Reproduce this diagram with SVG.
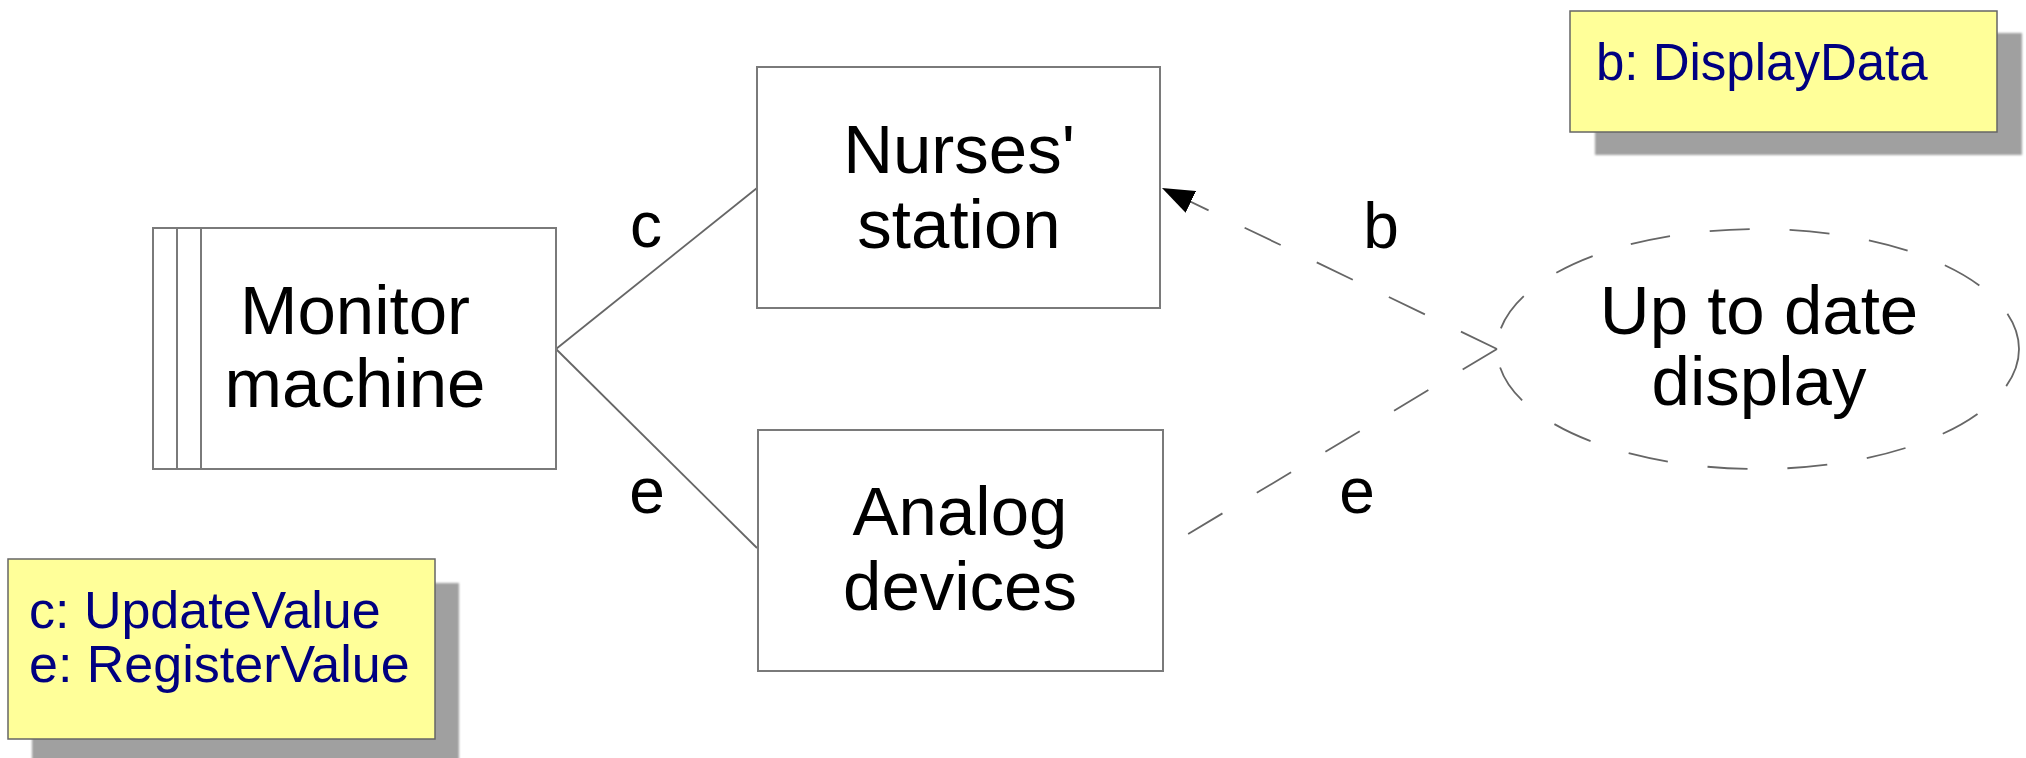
<svg xmlns="http://www.w3.org/2000/svg" width="2026" height="758" viewBox="0 0 2026 758">
<style>
.box{fill:#fff;stroke:#7a7a7a;stroke-width:2}
.lbl{font-family:"Liberation Sans",Arial,sans-serif;font-size:69px;fill:#000;text-anchor:middle}
.elbl{font-family:"Liberation Sans",Arial,sans-serif;font-size:64px;fill:#000;text-anchor:middle}
.note{fill:#ffff99;stroke:#666;stroke-width:1.5}
.shadow{fill:#a0a0a0}
.ntxt{font-family:"Liberation Sans",Arial,sans-serif;font-size:52px;fill:#000080}
.solid{fill:none;stroke:#666;stroke-width:1.8}
.dash{fill:none;stroke:#666;stroke-width:1.8;stroke-dasharray:40 40}
</style>
<defs>
<filter id="blur" x="-5%" y="-5%" width="110%" height="110%"><feGaussianBlur stdDeviation="1.2"/></filter>
<marker id="arrow" markerUnits="userSpaceOnUse" markerWidth="34" markerHeight="24" refX="32" refY="12" orient="auto">
<path d="M0,0 L32,12 L0,24 Z" fill="#000"/>
</marker>
</defs>
<g id="connectors">
<path class="solid" d="M556,349 L757,188"/>
<path class="solid" d="M556,349 L757,548"/>
<path class="dash" d="M1497,349 L1162,188" marker-end="url(#arrow)"/>
<path class="dash" d="M1497,349 L1163,549"/>
<text class="elbl" x="646" y="247">c</text>
<text class="elbl" x="647" y="513">e</text>
<text class="elbl" x="1381" y="248">b</text>
<text class="elbl" x="1357" y="513">e</text>
</g>
<g id="monitor-machine">
<rect class="box" x="153" y="228" width="403" height="241"/>
<line class="box" x1="177" y1="228" x2="177" y2="469"/>
<line class="box" x1="201" y1="228" x2="201" y2="469"/>
<text class="lbl" x="355" y="334">Monitor</text>
<text class="lbl" x="355" y="407">machine</text>
</g>
<g id="nurses-station">
<rect class="box" x="757" y="67" width="403" height="241"/>
<text class="lbl" x="959" y="173">Nurses'</text>
<text class="lbl" x="959" y="248">station</text>
</g>
<g id="analog-devices">
<rect class="box" x="758" y="430" width="405" height="241"/>
<text class="lbl" x="960" y="535">Analog</text>
<text class="lbl" x="960" y="610">devices</text>
</g>
<g id="up-to-date-display">
<ellipse class="dash" cx="1758" cy="349" rx="261" ry="120"/>
<text class="lbl" x="1759" y="334">Up to date</text>
<text class="lbl" x="1759" y="405">display</text>
</g>
<g id="note-b">
<rect class="shadow" x="1595" y="33" width="427" height="122" filter="url(#blur)"/>
<rect class="note" x="1570" y="11" width="427" height="121"/>
<text class="ntxt" x="1596" y="80" style="font-size:51px">b: DisplayData</text>
</g>
<g id="note-ce">
<rect class="shadow" x="32" y="583" width="427" height="180" filter="url(#blur)"/>
<rect class="note" x="8" y="559" width="427" height="180"/>
<text class="ntxt" x="29" y="628">c: UpdateValue</text>
<text class="ntxt" x="29" y="682">e: RegisterValue</text>
</g>
</svg>
